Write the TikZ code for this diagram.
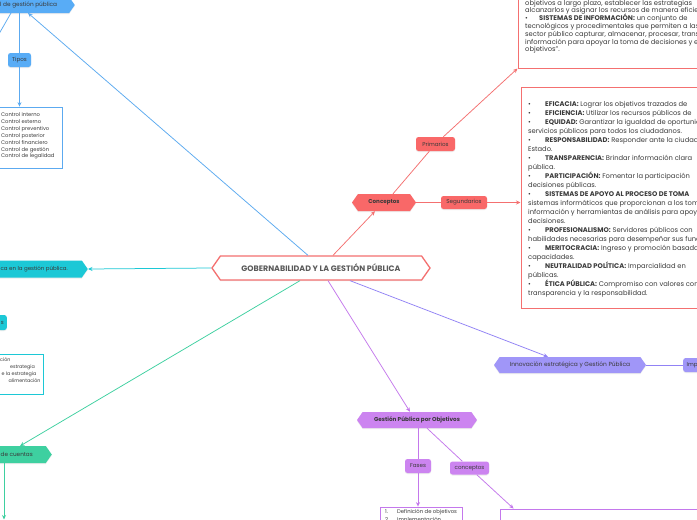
\documentclass[tikz,border=0pt]{standalone}
\usepackage{fontspec}
\setmainfont{Poppins}
\usetikzlibrary{shapes.symbols,arrows.meta,calc,shadows}
\definecolor{redL}{RGB}{244,112,112}
\definecolor{redF}{RGB}{249,104,104}
\definecolor{blueL}{RGB}{92,170,240}
\definecolor{blueF}{RGB}{88,172,246}
\definecolor{cyanL}{RGB}{28,200,214}
\definecolor{greenL}{RGB}{62,208,160}
\definecolor{purL}{RGB}{145,130,245}
\definecolor{purF}{RGB}{160,150,248}
\definecolor{vioL}{RGB}{196,120,236}
\definecolor{vioF}{RGB}{204,132,240}
\definecolor{txt}{RGB}{58,58,58}
\begin{document}
\begin{tikzpicture}[x=1pt,y=-1pt,
  every node/.style={text=txt, inner sep=0pt},
  shad/.style={drop shadow={opacity=0.15,shadow xshift=0pt,shadow yshift=-1pt}},
  hexnode/.style={shape=signal, signal to=west and east, signal pointer angle=110, shad},
  hexR/.style={shape=signal, signal to=east, signal pointer angle=110, shad},
  tag/.style={rectangle, rounded corners=2.5pt, shad, font=\fontsize{5.6}{6}\selectfont},
  box/.style={rectangle, draw, fill=white, line width=0.9pt},
  arr/.style={-{Stealth[length=4.5pt,width=4pt]}},
  ln/.style={line width=0.75pt},
  lt/.style={anchor=base west}
]
\useasboundingbox (0,0) rectangle (697,520);
\fill[white] (0,0) rectangle (697,520);

% ---- central node
\node[hexnode, fill=white, draw=redL, line width=1.3pt, minimum width=218pt, minimum height=24pt,
  font=\fontsize{7.9}{9}\selectfont\bfseries, text=black!65] (root) at (321,268) {GOBERNABILIDAD Y LA GESTIÓN PÚBLICA};

% ---- blue branch
\node[hexR, fill=blueF, minimum height=16pt, inner xsep=12pt, anchor=east, font=\fontsize{5.8}{6}\selectfont] (ctrl) at (75,5) {l de gestión pública};
\node[tag, fill=blueF, minimum width=23pt, minimum height=14pt] (tipos) at (19.5,60) {Tipos};
\node[box, draw=blueL, line width=0.8pt, minimum width=67pt, minimum height=61pt] (tlist) at (28.5,137.5) {};
\foreach \t [count=\i] in {Control interno, Control externo, Control preventivo, Control posterior, Control financiero, Control de gestión, Control de legalidad}
  \node[lt, font=\fontsize{5.2}{6}\selectfont] (tl\i) at (1,116.5+6.9*\i-6.9) {\t};
\coordinate (offA) at (-20,67);

% ---- cyan branch
\node[hexR, fill=cyanL, minimum height=17pt, inner xsep=14pt, anchor=east, font=\fontsize{5.5}{6}\selectfont] (etica) at (88,269) {ca en la gestión pública.};
\node[tag, fill=cyanL, minimum height=15pt, inner xsep=3pt, anchor=east] (cs) at (7,322.5) {s};
\node[box, draw=cyanL, line width=0.8pt, minimum width=50pt, minimum height=40pt] (clist) at (18,374) {};
\node[lt, font=\fontsize{4.8}{5}\selectfont] (cl1) at (0,361.5) {ción};
\node[lt, font=\fontsize{4.8}{5}\selectfont] (cl2) at (10,368.5) {estrategia};
\node[lt, font=\fontsize{4.8}{5}\selectfont] (cl3) at (1.5,375.5) {e la estrategia};
\node[lt, font=\fontsize{4.8}{5}\selectfont] (cl4) at (8.5,382.5) {alimentación};

% ---- green branch
\node[hexR, fill=greenL, minimum height=17pt, inner xsep=13pt, anchor=east, font=\fontsize{5.7}{6}\selectfont] (rend) at (52,454.5) {n de cuentas};
\coordinate (offB) at (4,519.5);

% ---- red branch
\node[hexnode, fill=redF, minimum width=64pt, minimum height=17pt, font=\fontsize{5.6}{6}\selectfont\bfseries] (conc) at (384,202.5) {Conceptos};
\node[tag, fill=redF, minimum width=46pt, minimum height=13pt] (seg) at (464,202.5) {Segundarios};
\node[tag, fill=redF, minimum width=39pt, minimum height=14pt] (prim) at (435.5,144) {Primarios};
\node[box, draw=redL, line width=1pt, minimum width=210pt, minimum height=90pt] (primbox) at (623,23) {};
\node[box, draw=redL, line width=1pt, minimum width=210pt, minimum height=221pt] (secbox) at (626,197.5) {};

\foreach \t [count=\i] in {
  {objetivos a largo plazo, establecer las estrategias},
  {alcanzarlos y asignar los recursos de manera eficiente.},
  {\makebox[14pt][l]{•}\textbf{SISTEMAS DE INFORMACIÓN:} un conjunto de},
  {tecnológicos y procedimentales que permiten a las},
  {sector público capturar, almacenar, procesar, transmitir},
  {información para apoyar la toma de decisiones y el},
  {objetivos''.}}
  \node[lt, font=\fontsize{6.75}{7}\selectfont] (pl\i) at (525,5+7.8*\i-7.8) {\t};

\foreach \t [count=\i] in {
  {\makebox[17pt][l]{•}\textbf{EFICACIA:} Lograr los objetivos trazados de},
  {\makebox[17pt][l]{•}\textbf{EFICIENCIA:} Utilizar los recursos públicos de},
  {\makebox[17pt][l]{•}\textbf{EQUIDAD:} Garantizar la igualdad de oportunidades},
  {servicios públicos para todos los ciudadanos.},
  {\makebox[17pt][l]{•}\textbf{RESPONSABILIDAD:} Responder ante la ciudadanía},
  {Estado.},
  {\makebox[17pt][l]{•}\textbf{TRANSPARENCIA:} Brindar información clara},
  {pública.},
  {\makebox[17pt][l]{•}\textbf{PARTICIPACIÓN:} Fomentar la participación},
  {decisiones públicas.},
  {\makebox[17pt][l]{•}\textbf{SISTEMAS DE APOYO AL PROCESO DE TOMA}},
  {sistemas informáticos que proporcionan a los tomadores},
  {información y herramientas de análisis para apoyar},
  {decisiones.},
  {\makebox[17pt][l]{•}\textbf{PROFESIONALISMO:} Servidores públicos con},
  {habilidades necesarias para desempeñar sus funciones},
  {\makebox[17pt][l]{•}\textbf{MERITOCRACIA:} Ingreso y promoción basada},
  {capacidades.},
  {\makebox[17pt][l]{•}\textbf{NEUTRALIDAD POLÍTICA:} Imparcialidad en},
  {públicas.},
  {\makebox[17pt][l]{•}\textbf{ÉTICA PÚBLICA:} Compromiso con valores como},
  {transparencia y la responsabilidad.}}
  \node[lt, font=\fontsize{6.75}{7}\selectfont] (sl\i) at (528,106+9*\i-9) {\t};

% ---- purple branch
\node[hexnode, fill=purF, minimum width=152pt, minimum height=16pt, font=\fontsize{5.9}{6}\selectfont] (innov) at (570,365) {Innovación estratégica y Gestión Pública};
\node[tag, fill=purF, minimum height=14pt, inner xsep=3pt, anchor=west, minimum width=30pt, align=left] (imp) at (683,365) {Imp\hspace{12pt}};

% ---- violet branch
\node[hexnode, fill=vioF, minimum width=120pt, minimum height=16pt, font=\fontsize{5.7}{6}\selectfont\bfseries] (gpo) at (417,420) {Gestión Pública por Objetivos};
\node[tag, fill=vioF, minimum width=26pt, minimum height=14pt] (fases) at (418,466) {Fases};
\node[tag, fill=vioF, minimum width=39pt, minimum height=13pt] (conc2) at (469.5,468) {conceptos};
\node[box, draw=vioL, line width=0.8pt, minimum width=82pt, minimum height=30pt] (flist) at (421,522) {};
\node[box, draw=vioL, line width=0.8pt, minimum width=220pt, minimum height=30pt] (cbox) at (610,524) {};
\node[lt, font=\fontsize{5.3}{6}\selectfont] (fl1) at (385,513.5) {\makebox[12pt][l]{1.}Definición de objetivos};
\node[lt, font=\fontsize{5.3}{6}\selectfont] (fl2) at (385,521) {\makebox[12pt][l]{2.}Implementación};

% ---- connectors
\draw[ln, blueL, arr] ($(root.north)+(-13,0)$) -- ($(ctrl.east)+(-47,8)$);
\draw[ln, blueL] ($(ctrl.east)+(-64,8)$) -- (offA);
\draw[ln, blueL] (tipos) -- (tipos |- ctrl.south);
\draw[ln, blueL, arr] (tipos) -- (tipos |- tlist.north);
\draw[ln, cyanL, arr] (root.west) -- (etica.east);
\draw[ln, greenL, arr] ($(root.south)+(-21,0)$) -- ($(rend.east)+(-32,-8.5)$);
\draw[ln, greenL, arr] ($(rend.east)+(-48,8.5)$) -- (offB);
\draw[ln, redL, arr] ($(root.north)+(12,0)$) -- ($(conc.south)+(-9,0)$);
\draw[ln, redL] ($(conc.north)+(9,0)$) -- (prim);
\draw[ln, redL, arr] (prim) -- (primbox.south west);
\draw[ln, redL] (conc.east) -- (seg.west);
\draw[ln, redL, arr] (seg.east) -- (seg.east -| secbox.west);
\draw[ln, purL, arr] ($(root.south)+(29,0)$) -- ($(innov.north)+(-22,0)$);
\draw[ln, purL] (innov.east) -- (imp.west);
\draw[ln, vioL, arr] ($(root.south)+(7,0)$) -- ($(gpo.north)+(-7,0)$);
\draw[ln, vioL] ($(gpo.south)+(1,0)$) -- (fases);
\draw[ln, vioL, arr] (fases) -- (fases |- flist.north);
\draw[ln, vioL] ($(gpo.south)+(10,0)$) -- (conc2);
\draw[ln, vioL, arr] (conc2) -- ($(cbox.north west)+(14,0)$);
\end{tikzpicture}
\end{document}
